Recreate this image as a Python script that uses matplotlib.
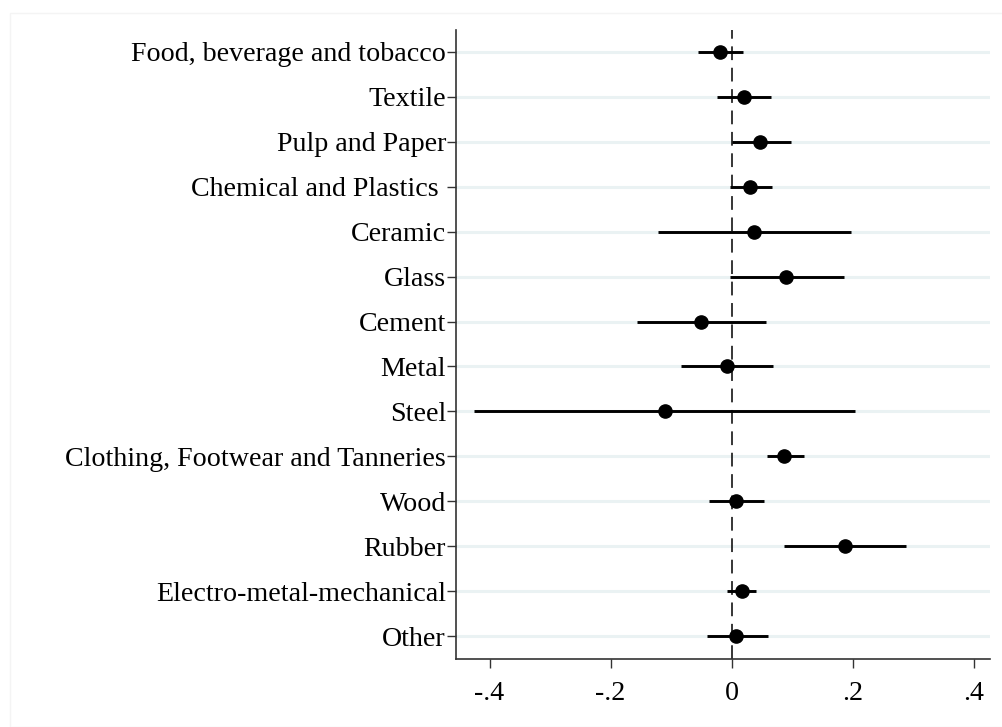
import matplotlib
matplotlib.use("Agg")
import matplotlib.pyplot as plt
from matplotlib.patches import Rectangle

sectors = ["Food, beverage and tobacco", "Textile", "Pulp and Paper",
           "Chemical and Plastics ", "Ceramic", "Glass", "Cement", "Metal",
           "Steel", "Clothing, Footwear and Tanneries", "Wood", "Rubber",
           "Electro-metal-mechanical", "Other"]
coef = [-0.020, 0.021, 0.047, 0.030, 0.037, 0.090, -0.050, -0.007,
        -0.110, 0.087, 0.008, 0.187, 0.017, 0.008]
ci_low = [-0.056, -0.024, 0.000, -0.003, -0.121, -0.003, -0.156, -0.083,
          -0.425, 0.058, -0.037, 0.086, -0.007, -0.041]
ci_high = [0.019, 0.065, 0.098, 0.066, 0.198, 0.185, 0.057, 0.068,
           0.204, 0.119, 0.054, 0.288, 0.041, 0.060]
xticks = [-0.4, -0.2, 0.0, 0.2, 0.4]
xticklabels = ["-.4", "-.2", "0", ".2", ".4"]

plt.rcParams['font.family'] = ['Liberation Serif', 'DejaVu Serif']

fig = plt.figure(figsize=(10.03, 7.27), dpi=100)
fig.patches.append(Rectangle((10/1003, 0), 1 - 10/1003, 1 - 13/727,
                             transform=fig.transFigure, fill=False,
                             edgecolor='#f4f4f4', linewidth=1.0, zorder=0))
ax = fig.add_axes([455.7/1003, 1 - 658.5/727, (990 - 455.7)/1003, (658.5 - 29.5)/727])

n = len(sectors)
ypos = list(range(1, n + 1))

for y in ypos:
    ax.axhline(y, color='#eaf2f3', linewidth=2.2, zorder=0)

ax.axvline(0, color='black', linewidth=1.1, linestyle=(0, (9, 5)), zorder=1)

ax.hlines(ypos, ci_low, ci_high, color='black', linewidth=2.1, zorder=2)
ax.plot(coef, ypos, 'o', color='black', markersize=9.5, zorder=3)

ax.set_ylim(n + 0.5, 0.5)
ax.set_xlim(-0.456, 0.427)
ax.set_yticks(ypos)
ax.set_yticklabels(sectors)
ax.set_xticks(xticks)
ax.set_xticklabels(xticklabels)

for s in ['top', 'right']:
    ax.spines[s].set_visible(False)
for s in ['left', 'bottom']:
    ax.spines[s].set_color('#333333')
    ax.spines[s].set_linewidth(1.2)

ax.tick_params(axis='y', length=6.5, width=1.0, color='#333333', pad=0.5,
               labelsize=20.2)
ax.tick_params(axis='x', length=6.5, width=1.0, color='#333333', pad=10,
               labelsize=20.2)

fig.savefig("out.png", dpi=100, facecolor='white')
